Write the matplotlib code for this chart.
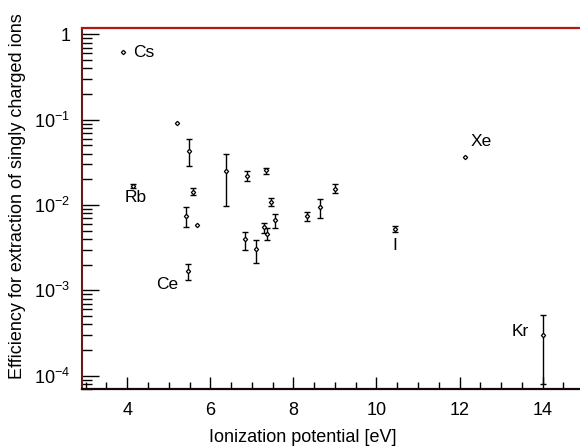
import numpy as np
import matplotlib
matplotlib.use("Agg")
import matplotlib.pyplot as plt
from matplotlib.ticker import LogLocator, FixedLocator, MultipleLocator, FuncFormatter, NullFormatter

plt.rcParams['font.family'] = ['Liberation Sans', 'DejaVu Sans']
plt.rcParams['mathtext.fontset'] = 'custom'
plt.rcParams['mathtext.rm'] = 'Liberation Sans'
plt.rcParams['mathtext.it'] = 'Liberation Sans'

# Data: ionization potential [eV], efficiency, lower and upper error limits
ip = [3.89, 4.15, 5.20, 5.49, 5.58, 5.41, 5.69, 5.47, 6.38, 6.88, 7.34,
      6.84, 7.09, 7.29, 7.37, 7.46, 7.57, 8.34, 8.64, 9.00, 10.45, 12.12, 14.00]
eff = [0.615, 0.0167, 0.092, 0.0433, 0.0143, 0.0075, 0.00578, 0.00169, 0.0248,
       0.0220, 0.0255, 0.00396, 0.00303, 0.00548, 0.00461, 0.01084, 0.00662,
       0.00743, 0.00955, 0.0153, 0.00523, 0.0368, 0.00030]
eff_lo = [0.615, 0.0160, 0.092, 0.0286, 0.0131, 0.00552, 0.00578, 0.00132, 0.00966,
          0.0191, 0.0231, 0.00297, 0.00207, 0.00473, 0.00386, 0.00973, 0.00533,
          0.00655, 0.0071, 0.0139, 0.00482, 0.0368, 0.000079]
eff_hi = [0.615, 0.0175, 0.092, 0.0589, 0.0157, 0.00955, 0.00578, 0.00202, 0.0396,
          0.0250, 0.0274, 0.00486, 0.00389, 0.00621, 0.00533, 0.01198, 0.00785,
          0.00821, 0.01167, 0.0176, 0.00567, 0.0368, 0.000514]

labels = ['Cs', 'Rb', 'Ce', 'Xe', 'I', 'Kr']
label_x = [4.40, 4.20, 4.97, 12.53, 10.45, 13.46]
label_y = [0.615, 0.0121, 0.00118, 0.0562, 0.00335, 0.000328]

x_ticks = [4, 6, 8, 10, 12, 14]

W, H = 580, 448
L, R, B, T = 81.5, 581.5, 389.3, 28
fig = plt.figure(figsize=(W/100, H/100), dpi=100)
ax = fig.add_axes([L/W, (H-B)/H, (R-L)/W, (B-T)/H])

ip_a = np.array(ip); eff_a = np.array(eff)
lo_a = np.array(eff_lo); hi_a = np.array(eff_hi)
has_err = hi_a > lo_a
ax.errorbar(ip_a[has_err], eff_a[has_err],
            yerr=[eff_a[has_err] - lo_a[has_err], hi_a[has_err] - eff_a[has_err]],
            fmt='none', ecolor='black', elinewidth=1.0, capsize=2.5, capthick=1.0, zorder=2)
ax.plot(ip_a, eff_a, 'D', ms=2.2, mfc='white', mec='black', mew=0.9, zorder=3)

for t, lx, ly in zip(labels, label_x, label_y):
    ax.text(lx, ly, t, ha='center', va='center', fontsize=12.5)

ax.set_yscale('log')
ax.set_xlim(2.9, 14.9 + 1.5/41.5)
ax.set_ylim(6.93e-5, 1.185)

ax.xaxis.set_major_locator(FixedLocator(x_ticks))
ax.xaxis.set_minor_locator(MultipleLocator(0.5))
ax.yaxis.set_major_locator(LogLocator(base=10, numticks=10))
ax.yaxis.set_minor_locator(LogLocator(base=10, subs=np.arange(2, 10), numticks=20))
ax.yaxis.set_minor_formatter(NullFormatter())

def yfmt(v, pos):
    e = int(round(np.log10(v)))
    if e == 0:
        return '1'
    return r'$10^{%d}$' % e
ax.yaxis.set_major_formatter(FuncFormatter(yfmt))

ax.tick_params(axis='x', which='major', direction='in', length=9, width=1, labelsize=13, pad=9, top=False)
ax.tick_params(axis='x', which='minor', direction='in', length=5, width=1, top=False)
ax.tick_params(axis='y', which='major', direction='in', length=12, width=1, labelsize=13, pad=8, right=False)
ax.tick_params(axis='y', which='minor', direction='in', length=7, width=1, right=False)

ax.spines['right'].set_visible(False)
ax.spines['top'].set_color('#b01818')
ax.spines['top'].set_linewidth(1.6)
ax.spines['left'].set_color('#6b1a1a')
ax.spines['left'].set_linewidth(1.5)
ax.spines['bottom'].set_color('#1a0606')
ax.spines['bottom'].set_linewidth(1.6)

fig.text(303/W, 1 - 437/H, 'Ionization potential [eV]', ha='center', va='center', fontsize=13)
fig.text(18/W, 1 - 196/H, 'Efficiency for extraction of singly charged ions',
         ha='center', va='center', rotation=90, fontsize=13)

fig.savefig('out.png', dpi=100)
